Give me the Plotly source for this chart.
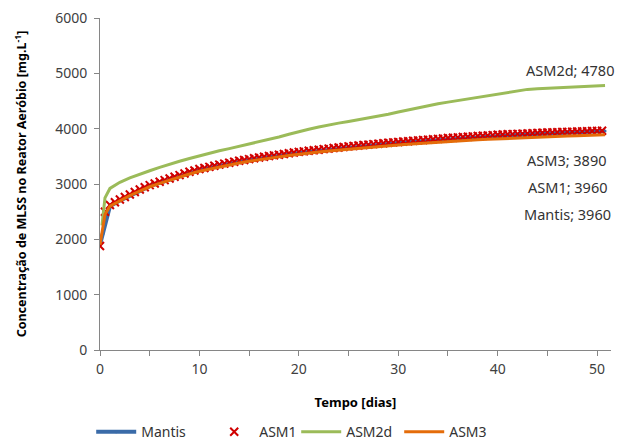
import plotly.graph_objects as go

# ASM1 (markers), half-day resolution
asm1_t = [i * 0.5 for i in range(102)]
asm1_v = [1880, 2500, 2620, 2670, 2720, 2765, 2810, 2855, 2900, 2940,
          2980, 3010, 3040, 3070, 3100, 3130, 3160, 3190, 3220, 3245,
          3270, 3290, 3310, 3330, 3350, 3368, 3385, 3403, 3420, 3435,
          3450, 3465, 3480, 3493, 3505, 3518, 3530, 3543, 3555, 3568,
          3580, 3590, 3600, 3610, 3620, 3630, 3640, 3650, 3660, 3670,
          3680, 3688, 3696, 3704, 3712, 3720, 3728, 3736, 3744, 3752,
          3760, 3767, 3774, 3781, 3788, 3795, 3802, 3809, 3816, 3823,
          3830, 3836, 3842, 3848, 3854, 3860, 3866, 3872, 3878, 3884,
          3890, 3894, 3898, 3902, 3906, 3910, 3914, 3918, 3922, 3926,
          3930, 3933, 3936, 3939, 3942, 3945, 3948, 3951, 3954, 3957,
          3960, 3962]

day_t = [0, 0.3] + list(range(1, 51)) + [50.8]

mantis_v = [1900, 2100, 2600, 2700, 2790, 2880, 2960, 3020, 3080, 3140, 3200, 3250,
            3290, 3330, 3365, 3400, 3430, 3460, 3485, 3510, 3535, 3560, 3580, 3600,
            3620, 3640, 3660, 3676, 3692, 3708, 3724, 3740, 3754, 3768, 3782, 3796,
            3810, 3822, 3834, 3846, 3858, 3870, 3878, 3886, 3894, 3902, 3910, 3916,
            3922, 3934, 3946, 3955, 3960]

asm3_t = [0, 0.5] + list(range(1, 51)) + [50.8]
asm3_v = [1900, 2450, 2600, 2700, 2790, 2870, 2950, 3010, 3070, 3130, 3180, 3230,
          3270, 3310, 3345, 3380, 3410, 3440, 3465, 3490, 3515, 3540, 3560, 3580,
          3598, 3615, 3632, 3648, 3663, 3678, 3692, 3706, 3719, 3732, 3744, 3756,
          3767, 3778, 3788, 3798, 3807, 3816, 3824, 3832, 3840, 3847, 3854, 3861,
          3867, 3873, 3879, 3885, 3890]

asm2d_t = [0.2, 0.5] + list(range(1, 51)) + [50.8]
asm2d_v = [2250, 2750, 2920, 3030, 3110, 3180, 3240, 3300, 3360, 3410, 3460, 3510,
           3560, 3600, 3640, 3680, 3720, 3760, 3800, 3850, 3900, 3950, 3990, 4030,
           4070, 4100, 4130, 4160, 4190, 4230, 4260, 4300, 4340, 4380, 4410, 4450,
           4480, 4510, 4540, 4570, 4600, 4630, 4660, 4690, 4710, 4720, 4730, 4740,
           4750, 4760, 4770, 4780, 4780]

labels = [("ASM2d", 4780, 47.3, 5060), ("ASM3", 3890, 47.0, 3440),
          ("ASM1", 3960, 47.1, 2950), ("Mantis", 3960, 47.0, 2460)]

font = "Noto Sans"
fig = go.Figure()
fig.add_trace(go.Scatter(x=day_t, y=mantis_v, name="Mantis", mode="lines+markers",
                         line=dict(color="#3A6BA8", width=4), legendwidth=63,
                         marker=dict(size=3, color="#3A6BA8")))
fig.add_trace(go.Scatter(x=asm1_t, y=asm1_v, name="ASM1", mode="markers", legendwidth=32,
                         marker=dict(symbol="x-thin-open", size=8, color="#D00000",
                                     line=dict(width=2, color="#D00000"))))
fig.add_trace(go.Scatter(x=asm2d_t, y=asm2d_v, name="ASM2d", mode="lines", legendwidth=48,
                         line=dict(color="#9BBB59", width=3)))
fig.add_trace(go.Scatter(x=asm3_t, y=asm3_v, name="ASM3", mode="lines", legendwidth=50,
                         line=dict(color="#E46C0A", width=3)))

for name, val, ax, ay in labels:
    fig.add_annotation(x=ax, y=ay, text=f"{name}; {val}", showarrow=False,
                       font=dict(family=font, size=14.5, color="#333333"))

axis_common = dict(showline=True, linecolor="#868686", linewidth=1, ticks="outside",
                   tickcolor="#868686", ticklen=5, showgrid=False, zeroline=False,
                   automargin=False,
                   tickfont=dict(family=font, size=14, color="#404040"))
fig.update_xaxes(range=[0, 51.4], dtick=10, tick0=0, ticklabelstandoff=1,
                 minor=dict(dtick=5, ticks="outside", ticklen=5, tickcolor="#868686"),
                 title=dict(text="<b>Tempo [dias]</b>", font=dict(family=font, size=13, color="#000000"),
                            standoff=21),
                 **axis_common)
fig.update_yaxes(range=[0, 6000], dtick=1000, ticklabelstandoff=4,
                 title=dict(text="<b>Concentração de MLSS no Reator Aeróbio [mg.L<sup>-1</sup>]</b>",
                            font=dict(family=font, size=12.5, color="#000000"), standoff=25),
                 **axis_common)
fig.update_layout(width=629, height=441, plot_bgcolor="white", paper_bgcolor="white",
                  margin=dict(l=100, r=18, t=18, b=91),
                  legend=dict(orientation="h", x=0.145, y=0.02, xref="container", yref="container",
                              xanchor="left", yanchor="middle",
                              font=dict(family=font, size=14, color="#333333"),
                              itemwidth=40),
                  showlegend=True)
fig.write_html("out.html", config={"displayModeBar": False},
               post_script="document.body.style.margin='0';")
